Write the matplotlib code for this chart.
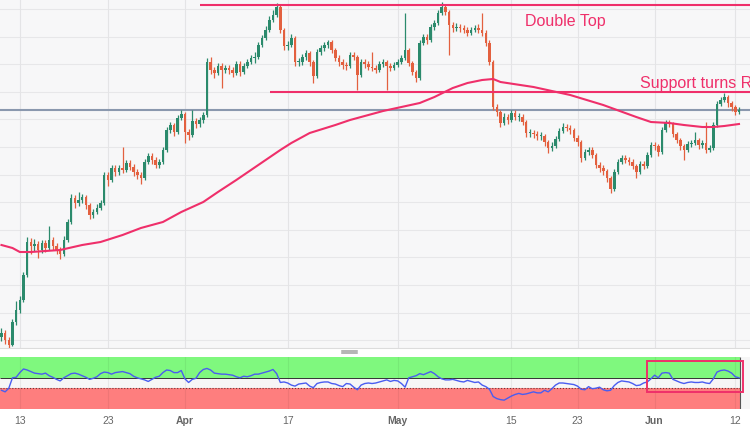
import matplotlib
matplotlib.use('Agg')
from matplotlib import pyplot as plt
from matplotlib.patches import Rectangle
from matplotlib.lines import Line2D
import numpy as np

plt.rcParams['font.family'] = ['Liberation Sans', 'DejaVu Sans']

# świece: zamknięcie, maksimum, minimum (otwarcie = poprzednie zamknięcie)
first_open = 101.3
close = [101.7, 101.0, 100.5, 102.8, 104.0, 105.0, 107.5, 110.8, 110.4, 110.6,
         110.0, 110.7, 110.2, 111.0, 110.4, 110.0, 109.6, 111.0, 112.8, 115.2,
         114.7, 115.0, 115.3, 114.5, 113.5, 113.8, 114.2, 114.7, 117.5, 117.0,
         118.2, 117.8, 118.2, 118.0, 118.7, 118.3, 117.8, 117.5, 117.2, 118.8,
         119.4, 119.0, 118.5, 118.8, 120.0, 122.0, 122.5, 121.8, 123.2, 123.6,
         121.8, 121.5, 122.9, 122.6, 123.0, 123.5, 128.8, 128.0, 127.7, 128.4,
         128.0, 128.2, 128.0, 127.7, 128.6, 127.8, 128.4, 128.8, 129.2, 129.3,
         130.5, 131.2, 132.0, 133.0, 133.5, 134.3, 132.0, 130.4, 130.5, 131.2,
         128.8, 128.8, 129.3, 129.7, 128.8, 127.4, 129.8, 130.2, 130.5, 130.8,
         130.0, 129.2, 128.8, 128.5, 128.4, 129.5, 129.3, 127.5, 128.8, 128.6,
         128.3, 128.2, 128.0, 128.6, 128.8, 128.4, 128.2, 128.5, 128.8, 129.2,
         130.0, 128.7, 127.8, 127.2, 130.7, 131.3, 131.0, 132.3, 132.7, 133.7,
         134.3, 133.8, 132.5, 132.2, 132.3, 132.2, 132.0, 131.7, 132.0, 132.2,
         132.0, 131.7, 130.7, 128.8, 124.3, 123.8, 122.7, 123.3, 123.0, 123.7,
         123.3, 123.3, 122.8, 121.7, 121.7, 121.6, 121.4, 121.4, 120.8, 120.2,
         120.4, 121.1, 121.9, 122.3, 122.2, 122.0, 121.2, 120.8, 119.2, 119.8,
         120.0, 119.5, 118.5, 118.2, 117.9, 117.2, 116.1, 117.8, 118.8, 119.2,
         119.0, 118.8, 118.4, 117.8, 118.6, 118.4, 119.5, 120.5, 120.4, 119.8,
         122.0, 122.7, 122.6, 121.6, 121.0, 120.4, 120.0, 120.6, 120.7, 121.0,
         120.5, 120.7, 120.0, 120.2, 122.5, 124.6, 125.0, 125.3, 124.7, 124.3,
         123.8, 124.0]
high = [102.2, 102.0, 101.3, 103.1, 104.9, 105.4, 107.8, 111.3, 111.2, 111.1,
        110.9, 111.0, 111.0, 112.4, 111.3, 110.7, 110.3, 111.4, 113.1, 115.6,
        115.5, 115.8, 115.6, 115.5, 114.7, 114.1, 114.6, 115.0, 117.8, 117.8,
        118.5, 118.5, 118.5, 120.3, 119.0, 119.0, 118.6, 118.1, 117.8, 119.1,
        119.7, 119.7, 119.3, 119.1, 120.3, 122.3, 122.8, 122.7, 123.5, 124.0,
        123.8, 122.1, 124.0, 123.2, 123.3, 123.8, 129.2, 129.3, 128.3, 128.7,
        128.7, 128.5, 128.5, 128.3, 128.9, 128.9, 128.7, 129.1, 129.5, 129.8,
        130.8, 131.5, 132.4, 133.4, 134.0, 134.7, 134.5, 132.2, 130.9, 131.6,
        131.4, 129.2, 129.6, 130.0, 129.9, 129.0, 130.1, 130.5, 130.8, 131.0,
        131.0, 130.2, 129.5, 129.1, 128.8, 129.8, 129.8, 129.5, 129.1, 129.1,
        128.9, 129.8, 128.5, 128.9, 129.1, 129.0, 128.7, 128.8, 129.1, 129.5,
        133.7, 130.2, 128.9, 128.0, 131.0, 131.6, 131.6, 132.6, 133.0, 134.0,
        134.8, 134.5, 134.0, 132.8, 132.7, 132.6, 132.5, 132.3, 132.3, 132.5,
        132.6, 133.7, 132.0, 131.0, 129.0, 124.6, 124.0, 123.7, 123.6, 124.0,
        124.0, 123.7, 123.6, 123.0, 122.1, 122.0, 121.9, 121.8, 121.6, 121.0,
        120.8, 121.4, 122.2, 122.7, 122.6, 122.5, 122.2, 121.5, 121.0, 120.1,
        120.3, 120.3, 119.7, 118.8, 118.5, 118.1, 117.4, 118.1, 119.1, 119.5,
        119.5, 119.3, 119.1, 118.6, 118.9, 118.9, 119.8, 120.8, 120.8, 120.6,
        122.3, 123.0, 123.0, 122.8, 121.8, 121.2, 120.6, 120.9, 121.0, 121.8,
        121.2, 121.0, 122.8, 120.5, 122.8, 124.9, 125.3, 125.7, 125.5, 124.9,
        124.5, 124.3]
low = [100.9, 100.6, 100.2, 100.4, 102.5, 103.7, 104.8, 107.3, 109.6, 109.9,
       109.2, 109.7, 109.8, 110.0, 110.0, 109.6, 109.1, 109.4, 110.8, 112.6,
       114.2, 114.4, 114.7, 114.1, 113.1, 113.2, 113.6, 114.0, 114.5, 116.4,
       116.8, 117.4, 117.5, 117.7, 117.8, 118.0, 117.4, 117.1, 116.6, 117.0,
       118.6, 118.6, 118.2, 118.2, 118.6, 119.8, 121.7, 121.4, 121.6, 123.0,
       120.7, 121.0, 121.3, 122.2, 122.3, 122.7, 123.3, 127.6, 127.2, 127.5,
       126.2, 127.7, 127.6, 127.3, 127.5, 127.4, 127.6, 128.2, 128.6, 128.7,
       129.1, 130.3, 131.0, 131.8, 132.8, 133.3, 131.7, 130.0, 130.0, 130.3,
       128.4, 128.4, 128.5, 129.0, 128.4, 126.7, 127.2, 129.5, 129.9, 130.2,
       129.7, 128.9, 128.4, 128.1, 128.0, 128.2, 129.0, 126.0, 127.3, 128.2,
       128.0, 127.9, 127.7, 127.8, 128.3, 126.0, 127.9, 128.0, 128.3, 128.6,
       129.0, 128.4, 127.5, 126.8, 127.0, 130.5, 130.6, 130.8, 132.0, 132.5,
       133.5, 133.5, 129.5, 131.8, 131.9, 131.8, 131.7, 131.4, 131.5, 131.8,
       131.7, 131.4, 130.4, 128.5, 124.0, 123.4, 122.3, 122.5, 122.6, 122.8,
       123.0, 122.9, 122.5, 121.3, 121.3, 121.2, 121.0, 121.0, 120.4, 119.7,
       119.9, 120.2, 120.9, 121.7, 121.9, 121.6, 120.9, 120.4, 118.8, 119.0,
       119.5, 119.2, 118.2, 117.8, 117.5, 116.8, 115.7, 115.9, 117.6, 118.6,
       118.7, 118.5, 118.1, 117.2, 117.6, 118.1, 118.2, 119.3, 120.0, 119.4,
       119.6, 121.8, 122.3, 121.3, 120.7, 120.0, 119.0, 119.8, 120.3, 120.5,
       120.1, 120.2, 119.7, 119.8, 120.0, 122.3, 124.4, 124.8, 124.3, 123.9,
       123.5, 123.6]

# średnia krocząca
ma_bar = [0, 3, 5, 8, 12, 16, 22, 27, 33, 38, 44, 49, 55, 59, 64, 68, 72, 76,
          79, 84, 91, 95, 100, 104, 109, 114, 118, 123, 127, 131, 134, 136,
          145, 155, 164, 173, 177, 182, 186, 191, 194, 197, 201]
ma_val = [110.5, 110.2, 109.8, 109.8, 109.9, 110.0, 110.5, 110.8, 111.5, 112.2,
          112.8, 113.8, 114.8, 115.8, 117.0, 118.0, 119.0, 120.0, 120.7, 121.7,
          122.5, 123.0, 123.5, 123.9, 124.3, 124.7, 125.3, 126.2, 126.7, 127.0,
          127.1, 126.8, 126.3, 125.5, 124.5, 123.3, 122.8, 122.7, 122.5, 122.3,
          122.3, 122.4, 122.6]

# RSI
rsi = [36, 33, 40, 60, 61, 70, 77, 75, 72, 69,
       68, 67, 69, 64, 61, 57, 54, 60, 64, 68,
       69, 67, 64, 61, 57, 59, 62, 68, 71, 70,
       67, 70, 71, 72, 70, 68, 63, 60, 58, 56,
       53, 57, 61, 63, 70, 75, 74, 70, 70, 74,
       58, 51, 57, 59, 70, 76, 78, 75, 69, 68,
       67, 67, 66, 65, 62, 60, 63, 62, 64, 67,
       67, 69, 71, 73, 76, 68, 51, 52, 50, 46,
       44, 48, 49, 50, 44, 41, 49, 51, 52, 52,
       49, 48, 45, 43, 49, 48, 42, 37, 46, 49,
       50, 49, 50, 52, 54, 56, 53, 55, 54, 49,
       42, 60, 62, 64, 68, 66, 69, 72, 68, 62,
       58, 56, 56, 57, 55, 53, 52, 55, 53, 51,
       52, 46, 43, 38, 24, 20, 18, 17, 21, 25,
       28, 30, 28, 29, 31, 33, 31, 31, 36, 33,
       39, 46, 50, 50, 49, 48, 47, 44, 38, 37,
       43, 39, 40, 42, 37, 35, 36, 45, 51, 54,
       53, 52, 49, 45, 46, 50, 52, 58, 65, 60,
       69, 70, 69, 57, 54, 51, 49, 51, 52, 51,
       51, 52, 50, 49, 58, 71, 74, 75, 73, 69,
       62, 60]

tick_bar = [5, 29, 50, 78, 108, 139, 157, 178, 200]
tick_lbl = ['13', '23', 'Apr', '17', 'May', '15', '23', 'Jun', '12']

double_top = 134.5
support = 125.8
last_price = 124.0

GREEN = '#2b8a6c'
RED = '#e3603f'
PINK = '#ef2f6a'

fig = plt.figure(figsize=(7.5, 4.3), dpi=100, facecolor='white')
ax = fig.add_axes([0, 82 / 430, 1, 348 / 430])
ax2 = fig.add_axes([0, 21 / 430, 1, 52 / 430])

xmin, xmax = -0.4, 204.0
for a in (ax, ax2):
    a.set_xlim(xmin, xmax)
    for s in a.spines.values():
        s.set_visible(False)
ax.set_facecolor('#f7f7f8')
ax2.set_facecolor('#f6f6f6')
ax.set_ylim(100.2, 135.0)
ax2.set_ylim(0, 100)
ax.set_xticks([])
ax.set_yticks([])
ax2.set_yticks([])

# siatka
for g in np.arange(134.1, 100.2, -2.76):
    ax.axhline(g, color='#e7e7e9', lw=0.8, zorder=0.5)
for t in tick_bar:
    ax.axvline(t, color='#e4e4e6', lw=0.8, zorder=0.5)

# świece
c = np.array(close)
o = np.r_[first_open, c[:-1]]
x = np.arange(len(c))
col = np.where(c >= o, GREEN, RED)
ax.vlines(x, low, high, colors=col, lw=0.9, zorder=3)
ax.bar(x, np.maximum(np.abs(c - o), 0.12), bottom=np.minimum(o, c), width=0.7,
       color=col, linewidth=0, zorder=4)

ax.plot(ma_bar, ma_val, color=PINK, lw=1.5, zorder=5)
ax.axhline(last_price, color='#8a98ae', lw=1.5, zorder=2)
ax.hlines(double_top, 54.1, xmax, color=PINK, lw=1.5, zorder=5)
ax.hlines(support, 73.2, xmax, color=PINK, lw=1.5, zorder=5)
ax.text(142.7, 132.4, 'Double Top', color=PINK, fontsize=11.5, va='baseline')
# w oryginale napis jest ucięty na prawej krawędzi
ax.text(174.0, 126.2, 'Support turns Resistance', color=PINK, fontsize=11.5,
        va='baseline', clip_on=True)

# panel RSI
band_end = len(rsi) - 1 + 0.3
ax2.fill_between([xmin, band_end], 60, 100, color='#7ff87e', lw=0, zorder=0.3)
ax2.fill_between([xmin, band_end], 0, 40, color='#fe7e7e', lw=0, zorder=0.3)
for t in tick_bar:
    ax2.axvline(t, color=(0, 0, 0, 0.06), lw=0.8, zorder=0.6)
ax2.hlines(60, xmin, band_end, color='#333333', lw=0.7, zorder=1)
ax2.hlines(40, xmin, band_end, color='#6a3a3a', lw=0.8, ls=':', zorder=1)
ax2.vlines(band_end, 0, 100, color='#555555', lw=0.8, zorder=1)
ax2.plot(np.arange(len(rsi)), rsi, color='#4a5df0', lw=1.0, zorder=3)
ax2.add_patch(Rectangle((175.9, 32.7), 26.2, 59.6, fill=False, ec=PINK,
                        lw=1.4, zorder=4, clip_on=False))

ax2.set_xticks(tick_bar)
ax2.set_xticklabels(tick_lbl)
ax2.tick_params(axis='x', length=0, pad=5, labelsize=7.5, colors='#666666')
for lb in ax2.get_xticklabels():
    if lb.get_text().isalpha():
        lb.set_fontweight('bold')

# separator między panelami
fig.add_artist(Rectangle((0, 73 / 430), 1, 9 / 430, transform=fig.transFigure,
                         color='white', zorder=0))
fig.add_artist(Line2D([0, 1], [81.7 / 430] * 2, transform=fig.transFigure,
                      color='#dcdcdc', lw=0.8))
for yy in (79.3, 76.8):
    fig.add_artist(Line2D([342 / 750, 357 / 750], [yy / 430] * 2,
                          transform=fig.transFigure, color='#a0a0a0', lw=1.1))

fig.savefig('out.png', dpi=100, facecolor='white')
